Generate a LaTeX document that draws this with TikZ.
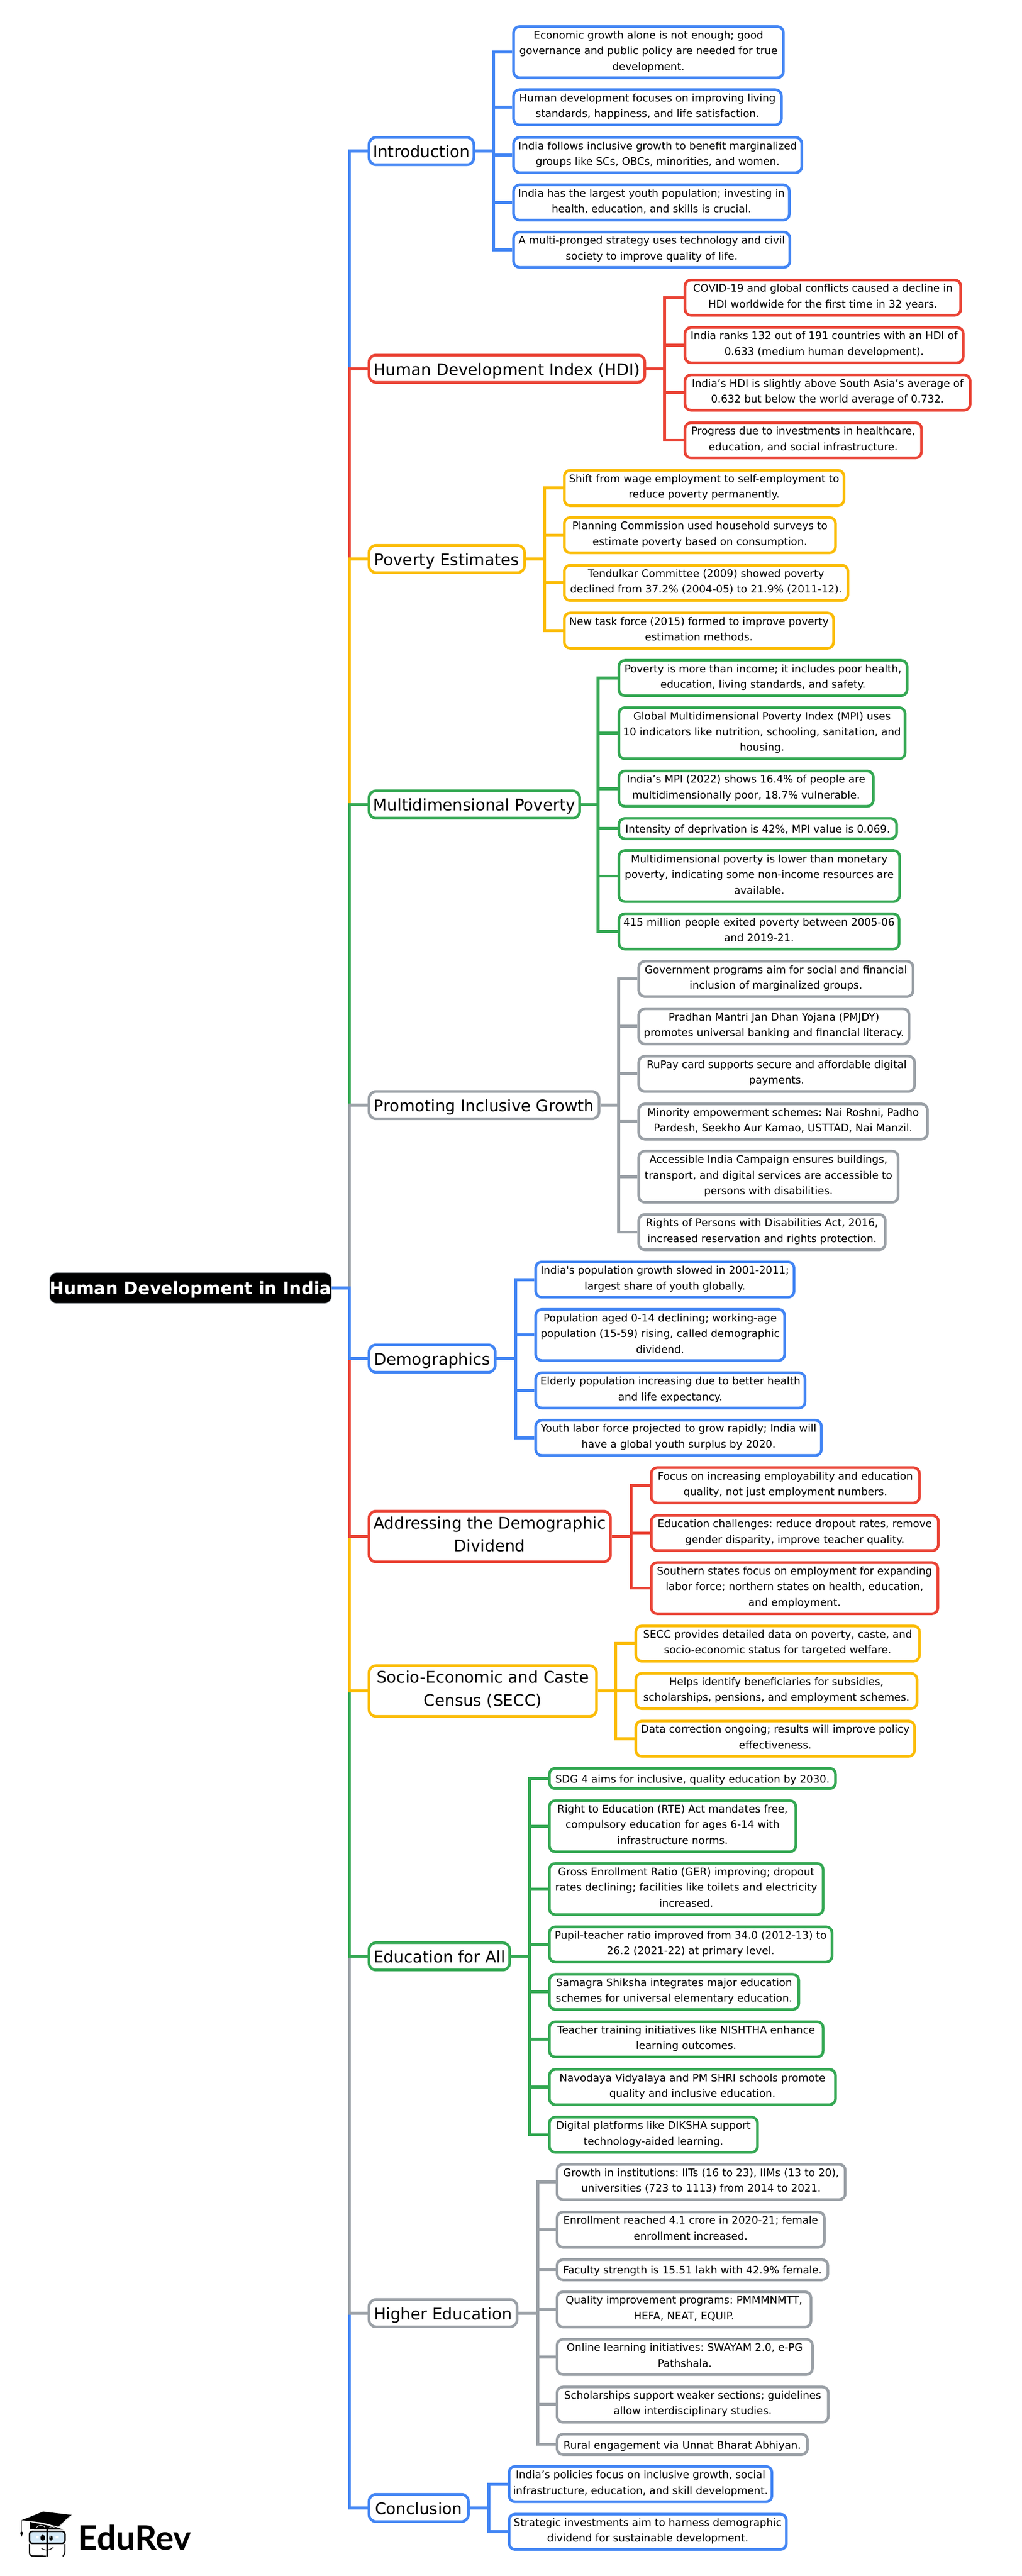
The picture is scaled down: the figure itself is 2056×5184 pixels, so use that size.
\documentclass[tikz,border=0pt]{standalone}
\usepackage{fontspec}
\setmainfont{DejaVu Sans}
\newfontfamily\logofont{Lato}
\usetikzlibrary{positioning}

\definecolor{mapblue}{HTML}{4285F4}
\definecolor{mapred}{HTML}{EA4335}
\definecolor{mapyellow}{HTML}{FBBC05}
\definecolor{mapgreen}{HTML}{34A853}
\definecolor{mapgray}{HTML}{9AA0A6}
\definecolor{logoblue}{HTML}{D6EAF8}

\newcommand{\boxstrut}{\vrule height .78\baselineskip depth .22\baselineskip width 0pt}

\tikzset{
  wide/.style={minimum width=#1*0.5pt},
  tall/.style={minimum height=#1*0.5pt},
  mainnode/.style={rectangle, rounded corners=7pt, draw=mapgray, line width=0.5pt, fill=black,
    text=white, inner sep=0pt, text height=12.6pt, text depth=0pt, font=\fontsize{17.3}{23}\selectfont\bfseries},
  topicnode/.style={rectangle, rounded corners=7pt, draw=#1, line width=2.7pt, fill=white, anchor=west,
    inner sep=0pt, align=center, tall=55, font=\frenchspacing\fontsize{16.1}{23}\selectfont,
    execute at begin node=\boxstrut, execute at end node=\boxstrut},
  leafnode/.style={rectangle, rounded corners=6pt, draw=#1, line width=2.7pt, fill=white, anchor=west,
    inner sep=0pt, align=center, tall=71, font=\frenchspacing\fontsize{10.5}{15.8}\selectfont,
    execute at begin node=\boxstrut, execute at end node=\boxstrut},
  link/.style={draw=#1, line width=3pt}
}

\begin{document}
\begin{tikzpicture}[x=0.5pt, y=-0.5pt]

    \useasboundingbox (0,0) rectangle (2056,5184);

    \node [mainnode, wide=564, tall=62] (main) at (383.5,2592) {Human Development in India};
    \coordinate (main-bus) at (703.5,0);

    \node [topicnode=mapblue, wide=211] (intro) at (740,304) {Introduction};
    \node [topicnode=mapred, wide=555] (hdi) at (740,742) {Human Development Index (HDI)};
    \node [topicnode=mapyellow, wide=313] (poverty) at (740,1125) {Poverty Estimates};
    \node [topicnode=mapgreen, wide=424] (multi) at (740,1619) {Multidimensional Poverty};
    \node [topicnode=mapgray, wide=463] (inclusive) at (740,2224) {Promoting Inclusive Growth};
    \node [topicnode=mapblue, wide=254] (demog) at (740,2734) {Demographics};
    \node [topicnode=mapred, wide=486, tall=102] (dividend) at (740,3092) {Addressing the Demographic\\Dividend};
    \node [topicnode=mapyellow, wide=458, tall=102] (secc) at (740,3403) {Socio-Economic and Caste\\Census (SECC)};
    \node [topicnode=mapgreen, wide=283] (education) at (740,3937) {Education for All};
    \node [topicnode=mapgray, wide=298] (higher) at (740,4655) {Higher Education};
    \node [topicnode=mapblue, wide=200] (concl) at (740,5047) {Conclusion};

    \node [leafnode=mapblue, wide=543, tall=103] (intro-1) at (1031,105) {Economic growth alone is not enough; good\\governance and public policy are needed for true\\development.};
    \node [leafnode=mapblue, wide=539] (intro-2) at (1031,216) {Human development focuses on improving living\\standards, happiness, and life satisfaction.};
    \node [leafnode=mapblue, wide=580] (intro-3) at (1031,312) {India follows inclusive growth to benefit marginalized\\groups like SCs, OBCs, minorities, and women.};
    \node [leafnode=mapblue, wide=555] (intro-4) at (1031,407.5) {India has the largest youth population; investing in\\health, education, and skills is crucial.};
    \node [leafnode=mapblue, wide=556] (intro-5) at (1031,502.5) {A multi-pronged strategy uses technology and civil\\society to improve quality of life.};

    \node [leafnode=mapred, wide=555] (hdi-1) at (1376,599) {COVID-19 and global conflicts caused a decline in\\HDI worldwide for the first time in 32 years.};
    \node [leafnode=mapred, wide=560] (hdi-2) at (1376,694.5) {India ranks 132 out of 191 countries with an HDI of\\0.633 (medium human development).};
    \node [leafnode=mapred, wide=574] (hdi-3) at (1376,790) {India’s HDI is slightly above South Asia’s average of\\0.632 but below the world average of 0.732.};
    \node [leafnode=mapred, wide=476] (hdi-4) at (1376,886) {Progress due to investments in healthcare,\\education, and social infrastructure.};

    \node [leafnode=mapyellow, wide=563] (poverty-1) at (1133,982) {Shift from wage employment to self-employment to\\reduce poverty permanently.};
    \node [leafnode=mapyellow, wide=546] (poverty-2) at (1133,1077) {Planning Commission used household surveys to\\estimate poverty based on consumption.};
    \node [leafnode=mapyellow, wide=571] (poverty-3) at (1133,1173) {Tendulkar Committee (2009) showed poverty\\declined from 37.2\% (2004-05) to 21.9\% (2011-12).};
    \node [leafnode=mapyellow, wide=542] (poverty-4) at (1133,1269) {New task force (2015) formed to improve poverty\\estimation methods.};

    \node [leafnode=mapgreen, wide=580] (multi-1) at (1243,1364.5) {Poverty is more than income; it includes poor health,\\education, living standards, and safety.};
    \node [leafnode=mapgreen, wide=576, tall=103] (multi-2) at (1243,1475.5) {Global Multidimensional Poverty Index (MPI) uses\\10 indicators like nutrition, schooling, sanitation, and\\housing.};
    \node [leafnode=mapgreen, wide=512] (multi-3) at (1243,1587) {India’s MPI (2022) shows 16.4\% of people are\\multidimensionally poor, 18.7\% vulnerable.};
    \node [leafnode=mapgreen, wide=559, tall=41] (multi-4) at (1243,1667.5) {Intensity of deprivation is 42\%, MPI value is 0.069.};
    \node [leafnode=mapgreen, wide=565, tall=103] (multi-5) at (1243,1763) {Multidimensional poverty is lower than monetary\\poverty, indicating some non-income resources are\\available.};
    \node [leafnode=mapgreen, wide=564] (multi-6) at (1243,1874.5) {415 million people exited poverty between 2005-06\\and 2019-21.};

    \node [leafnode=mapgray, wide=552] (inclusive-1) at (1283,1970) {Government programs aim for social and financial\\inclusion of marginalized groups.};
    \node [leafnode=mapgray, wide=544] (inclusive-2) at (1283,2065.5) {Pradhan Mantri Jan Dhan Yojana (PMJDY)\\promotes universal banking and financial literacy.};
    \node [leafnode=mapgray, wide=555] (inclusive-3) at (1283,2161) {RuPay card supports secure and affordable digital\\payments.};
    \node [leafnode=mapgray, wide=581] (inclusive-4) at (1283,2257) {Minority empowerment schemes: Nai Roshni, Padho\\Pardesh, Seekho Aur Kamao, USTTAD, Nai Manzil.};
    \node [leafnode=mapgray, wide=522, tall=103] (inclusive-5) at (1283,2368) {Accessible India Campaign ensures buildings,\\transport, and digital services are accessible to\\persons with disabilities.};
    \node [leafnode=mapgray, wide=496] (inclusive-6) at (1283,2479.5) {Rights of Persons with Disabilities Act, 2016,\\increased reservation and rights protection.};

    \node [leafnode=mapblue, wide=520] (demog-1) at (1075.5,2575) {India\textquotesingle s population growth slowed in 2001-2011;\\largest share of youth globally.};
    \node [leafnode=mapblue, wide=501, tall=103] (demog-2) at (1075.5,2686.5) {Population aged 0-14 declining; working-age\\population (15-59) rising, called demographic\\dividend.};
    \node [leafnode=mapblue, wide=542] (demog-3) at (1075.5,2798) {Elderly population increasing due to better health\\and life expectancy.};
    \node [leafnode=mapblue, wide=575] (demog-4) at (1075.5,2893.5) {Youth labor force projected to grow rapidly; India will\\have a global youth surplus by 2020.};

    \node [leafnode=mapred, wide=540] (dividend-1) at (1308,2989) {Focus on increasing employability and education\\quality, not just employment numbers.};
    \node [leafnode=mapred, wide=578] (dividend-2) at (1308,3085) {Education challenges: reduce dropout rates, remove\\gender disparity, improve teacher quality.};
    \node [leafnode=mapred, wide=577, tall=103] (dividend-3) at (1308,3196) {Southern states focus on employment for expanding\\labor force; northern states on health, education,\\and employment.};

    \node [leafnode=mapyellow, wide=571] (secc-1) at (1277,3307.5) {SECC provides detailed data on poverty, caste, and\\socio-economic status for targeted welfare.};
    \node [leafnode=mapyellow, wide=566] (secc-2) at (1277,3403) {Helps identify beneficiaries for subsidies,\\scholarships, pensions, and employment schemes.};
    \node [leafnode=mapyellow, wide=561] (secc-3) at (1277,3499) {Data correction ongoing; results will improve policy\\effectiveness.};

    \node [leafnode=mapgreen, wide=576, tall=41] (education-1) at (1103,3579) {SDG 4 aims for inclusive, quality education by 2030.};
    \node [leafnode=mapgreen, wide=496, tall=103] (education-2) at (1103,3675) {Right to Education (RTE) Act mandates free,\\compulsory education for ages 6-14 with\\infrastructure norms.};
    \node [leafnode=mapgreen, wide=551, tall=103] (education-3) at (1103,3801.5) {Gross Enrollment Ratio (GER) improving; dropout\\rates declining; facilities like toilets and electricity\\increased.};
    \node [leafnode=mapgreen, wide=569] (education-4) at (1103,3913) {Pupil-teacher ratio improved from 34.0 (2012-13) to\\26.2 (2021-22) at primary level.};
    \node [leafnode=mapgreen, wide=502] (education-5) at (1103,4008.5) {Samagra Shiksha integrates major education\\schemes for universal elementary education.};
    \node [leafnode=mapgreen, wide=551] (education-6) at (1103,4104) {Teacher training initiatives like NISHTHA enhance\\learning outcomes.};
    \node [leafnode=mapgreen, wide=576] (education-7) at (1103,4200) {Navodaya Vidyalaya and PM SHRI schools promote\\quality and inclusive education.};
    \node [leafnode=mapgreen, wide=419] (education-8) at (1103,4296) {Digital platforms like DIKSHA support\\technology-aided learning.};

    \node [leafnode=mapgray, wide=580] (higher-1) at (1118.5,4391) {Growth in institutions: IITs (16 to 23), IIMs (13 to 20),\\universities (723 to 1113) from 2014 to 2021.};
    \node [leafnode=mapgray, wide=538] (higher-2) at (1118.5,4487) {Enrollment reached 4.1 crore in 2020-21; female\\enrollment increased.};
    \node [leafnode=mapgray, wide=545, tall=41] (higher-3) at (1118.5,4567.5) {Faculty strength is 15.51 lakh with 42.9\% female.};
    \node [leafnode=mapgray, wide=511] (higher-4) at (1118.5,4647.5) {Quality improvement programs: PMMMNMTT,\\HEFA, NEAT, EQUIP.};
    \node [leafnode=mapgray, wide=514] (higher-5) at (1118.5,4743) {Online learning initiatives: SWAYAM 2.0, e-PG\\Pathshala.};
    \node [leafnode=mapgray, wide=546] (higher-6) at (1118.5,4839) {Scholarships support weaker sections; guidelines\\allow interdisciplinary studies.};
    \node [leafnode=mapgray, wide=504, tall=41] (higher-7) at (1118.5,4919) {Rural engagement via Unnat Bharat Abhiyan.};

    \node [leafnode=mapblue, wide=529] (concl-1) at (1022,4999) {India’s policies focus on inclusive growth, social\\infrastructure, education, and skill development.};
    \node [leafnode=mapblue, wide=558] (concl-2) at (1022,5095) {Strategic investments aim to harness demographic\\dividend for sustainable development.};

    \foreach \part/\col in {intro/mapblue,hdi/mapred,poverty/mapyellow,multi/mapgreen,inclusive/mapgray,
        concl/mapblue,higher/mapgray,education/mapgreen,secc/mapyellow,dividend/mapred,demog/mapblue}
      \draw [link=\col] (main.east) -- (main.east -| main-bus) |- (\part.west);

    \foreach \part/\col/\last/\busx in {intro/mapblue/5/993,hdi/mapred/4/1337.5,poverty/mapyellow/4/1095.5,
        multi/mapgreen/6/1204,inclusive/mapgray/6/1245.5,demog/mapblue/4/1037.5,dividend/mapred/3/1270.5,
        secc/mapyellow/3/1239,education/mapgreen/8/1065.5,higher/mapgray/7/1082,concl/mapblue/2/984} {
      \coordinate (\part-bus) at (\busx,0);
      \foreach \i in {1,...,\last}
        \draw [link=\col] (\part.east) -- (\part.east -| \part-bus) |- (\part-\i.west);
    }

    \begin{scope}[shift={(0,5000)}, x=0.1667pt, y=-0.1667pt]
      \fill (130,215) -- (260,163) -- (432,183) -- (355,255) -- (250,228) -- cycle;
      \fill (180,225) -- (345,258) -- (382,272) -- (180,270) -- cycle;
      \draw [white, line width=0.4pt] (350,258) -- (420,192);
      \draw [white, line width=0.5pt] (218,262) .. controls (235,240) and (255,240) .. (272,258);
      \draw [white, line width=0.5pt] (295,262) .. controls (310,250) and (320,252) .. (332,262);
      \draw [line width=0.6pt] (130,215) -- (130,285);
      \fill (130,315) -- (122,292) .. controls (124,282) and (136,282) .. (140,292) -- cycle;
      \draw [line width=1.5pt, fill=logoblue, rounded corners=3pt] (178,282) rectangle (392,355);
      \draw [line width=1.4pt] (285,270) -- (285,434);
      \fill (258,321) ellipse [x radius=14, y radius=18];
      \fill (308,323) ellipse [x radius=11, y radius=15];
      \fill [white] (252,312) circle [radius=3];
      \fill [white] (304,316) circle [radius=3];
      \fill [white] (218,308) rectangle (234,324);
      \fill [white] (336,308) rectangle (354,324);
      \draw [line width=1.2pt, rounded corners=3pt] (178,358) -- (178,430) -- (278,432);
      \draw [line width=1.2pt, rounded corners=3pt] (392,358) -- (392,420) -- (380,432);
      \draw [line width=0.7pt] (250,385) .. controls (275,400) and (300,398) .. (322,378);
    \end{scope}

    \node [anchor=west, inner sep=0pt, font=\logofont\fontsize{34}{36}\selectfont\bfseries] (logoname) at (157,5107) {EduRev};

\end{tikzpicture}
\end{document}
